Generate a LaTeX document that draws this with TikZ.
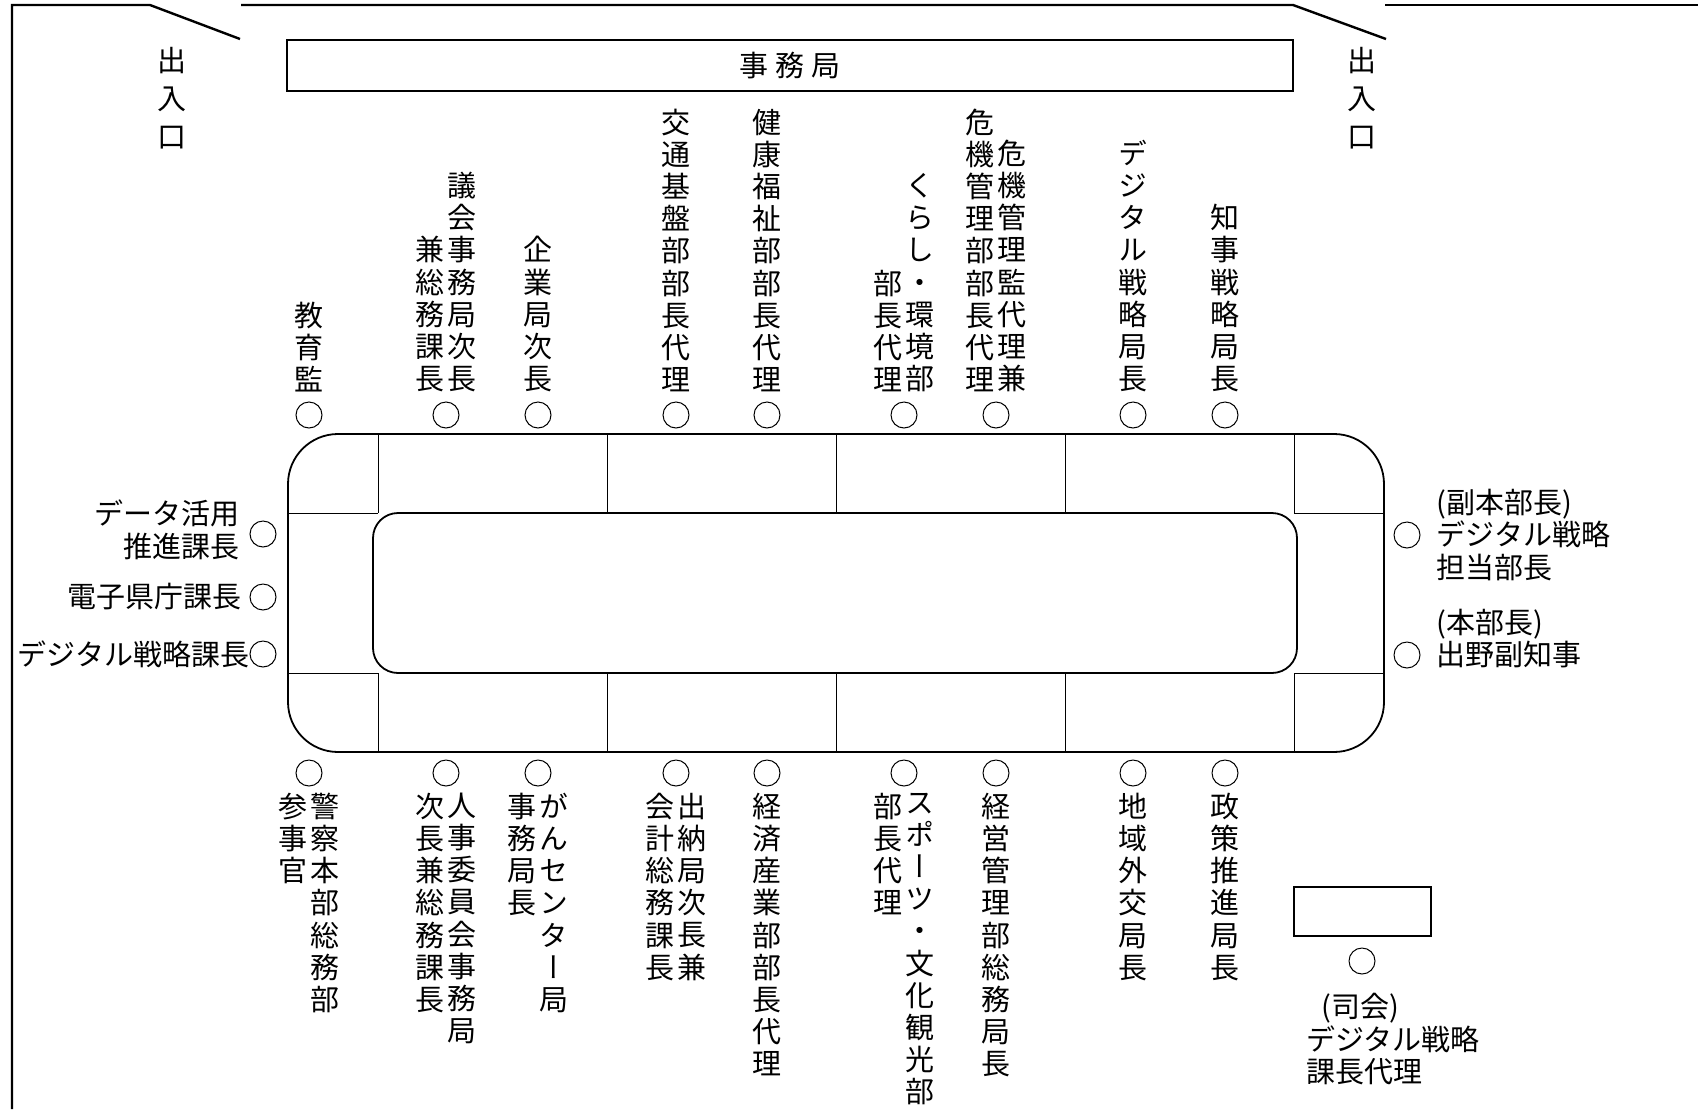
\documentclass[tikz,border=0pt]{standalone}
\usepackage{fontspec}
\setmainfont{Noto Sans CJK JP}
\newfontfamily\tatefont[RawFeature=+vert]{Noto Sans CJK JP}
\usetikzlibrary{positioning}
\tikzset{
  seat/.style={circle,draw,line width=.5pt,minimum size=13pt,inner sep=0pt},
  tate/.style={align=center,inner sep=0pt,font=\tatefont\fontsize{14.5pt}{16.1pt}\selectfont},
  door/.style={align=center,inner sep=0pt,font=\fontsize{14.5pt}{18.85pt}\selectfont},
  yoko/.style={inner sep=0pt,font=\fontsize{14.5pt}{16.4pt}\selectfont},
  wall/.style={line width=1.2pt},
  desk/.style={draw,line width=1.3pt,inner sep=0pt},
  tbl/.style={line width=.9pt},
  cut/.style={line width=.5pt}
}
\begin{document}
\begin{tikzpicture}[x=.5pt,y=-.5pt]
\useasboundingbox (0,0) rectangle (1698,1109);
\draw[wall] (12,1109) -- (12,5) -- (150,5) -- (240,39);
\draw[wall] (241,5) -- (1293,5) -- (1386,39);
\draw[wall] (1385,5) -- (1698,5);
\node[door] (in1) at (172,98) {出\\入\\口};
\node[door] (in2) at (1362,98) {出\\入\\口};
\node[desk,yoko,minimum width=503pt,minimum height=25.5pt] (office) at (790,65.5) {事\hspace{3.5pt}務\hspace{3.5pt}局};
\draw[tbl,rounded corners=25pt] (288,434) rectangle (1384,752);
\draw[tbl,rounded corners=12.5pt] (373,513) rectangle (1297,673);
\foreach \x in {378,607,836,1065,1294} {
  \draw[cut] (\x,434) -- (\x,513);
  \draw[cut] (\x,673) -- (\x,752);
}
\draw[cut] (288,513) -- (378,513) (288,673) -- (378,673) (1294,513) -- (1384,513) (1294,673) -- (1384,673);
\foreach \x [count=\i] in {309,446,538,676,767,904,996,1133,1225} {
  \node[seat] (t\i) at (\x,415) {};
  \node[seat] (b\i) at (\x,773) {};
}
\node[tate,above=4.5pt of t1] (t1a) {教\\育\\監};
\node[tate,above=4.5pt of t2,xshift=8.1pt] (t2a) {議\\会\\事\\務\\局\\次\\長};
\node[tate,above=4.5pt of t2,xshift=-8.1pt] (t2b) {兼\\総\\務\\課\\長};
\node[tate,above=4.5pt of t3] (t3a) {企\\業\\局\\次\\長};
\node[tate,above=4.5pt of t4] (t4a) {交\\通\\基\\盤\\部\\部\\長\\代\\理};
\node[tate,above=4.5pt of t5] (t5a) {健\\康\\福\\祉\\部\\部\\長\\代\\理};
\node[tate,above=4.5pt of t6,xshift=8.1pt] (t6a) {く\\ら\\し\\・\\環\\境\\部};
\node[tate,above=4.5pt of t6,xshift=-8.1pt] (t6b) {部\\長\\代\\理};
\node[tate,above=4.5pt of t7,xshift=8.1pt] (t7a) {危\\機\\管\\理\\監\\代\\理\\兼};
\node[tate,above=4.5pt of t7,xshift=-8.1pt] (t7b) {危\\機\\管\\理\\部\\部\\長\\代\\理};
\node[tate,above=4.5pt of t8] (t8a) {デ\\ジ\\タ\\ル\\戦\\略\\局\\長};
\node[tate,above=4.5pt of t9] (t9a) {知\\事\\戦\\略\\局\\長};
\node[tate,below=3pt of b1,xshift=8.1pt] (b1a) {警\\察\\本\\部\\総\\務\\部};
\node[tate,below=3pt of b1,xshift=-8.1pt] (b1b) {参\\事\\官};
\node[tate,below=3pt of b2,xshift=8.1pt] (b2a) {人\\事\\委\\員\\会\\事\\務\\局};
\node[tate,below=3pt of b2,xshift=-8.1pt] (b2b) {次\\長\\兼\\総\\務\\課\\長};
\node[tate,below=3pt of b3,xshift=8.1pt] (b3a) {が\\ん\\セ\\ン\\タ\\ー\\局};
\node[tate,below=3pt of b3,xshift=-8.1pt] (b3b) {事\\務\\局\\長};
\node[tate,below=3pt of b4,xshift=8.1pt] (b4a) {出\\納\\局\\次\\長\\兼};
\node[tate,below=3pt of b4,xshift=-8.1pt] (b4b) {会\\計\\総\\務\\課\\長};
\node[tate,below=3pt of b5] (b5a) {経\\済\\産\\業\\部\\部\\長\\代\\理};
\node[tate,below=3pt of b6,xshift=8.1pt] (b6a) {ス\\ポ\\ー\\ツ\\・\\文\\化\\観\\光\\部};
\node[tate,below=3pt of b6,xshift=-8.1pt] (b6b) {部\\長\\代\\理};
\node[tate,below=3pt of b7] (b7a) {経\\営\\管\\理\\部\\総\\務\\局\\長};
\node[tate,below=3pt of b8] (b8a) {地\\域\\外\\交\\局\\長};
\node[tate,below=3pt of b9] (b9a) {政\\策\\推\\進\\局\\長};
\node[seat] (l1) at (263,534) {};
\node[seat] (l2) at (263,597) {};
\node[seat] (l3) at (263,654) {};
\node[yoko,align=right,left=5pt of l1,yshift=2.25pt] (l1a) {データ活用\\推進課長};
\node[yoko,left=4pt of l2] (l2a) {電子県庁課長};
\node[yoko,left=0pt of l3] (l3a) {デジタル戦略課長};
\node[seat] (r1) at (1407,535) {};
\node[seat] (r2) at (1407,655) {};
\node[yoko,align=left,right=8pt of r1] (r1a) {(副本部長)\\デジタル戦略\\担当部長};
\node[yoko,align=left,right=8pt of r2,yshift=8.2pt] (r2a) {(本部長)\\出野副知事};
\node[desk,minimum width=68.5pt,minimum height=24.5pt] (mcdesk) at (1362.5,911.5) {};
\node[seat] (mc) at (1362,961) {};
\node[yoko,align=left,below=9pt of mc,xshift=15.5pt] (mca) {\hspace*{7.5pt}(司会)\\デジタル戦略\\課長代理};
\end{tikzpicture}
\end{document}
